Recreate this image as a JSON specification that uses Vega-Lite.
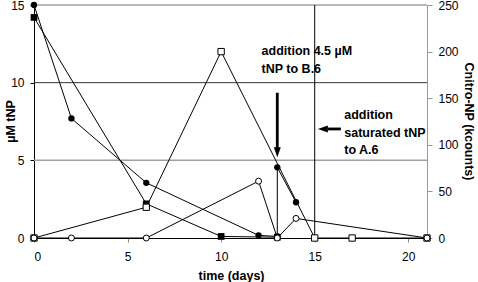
{
  "$schema": "https://vega.github.io/schema/vega-lite/v6.json",
  "width": 393,
  "height": 233,
  "autosize": "none",
  "padding": {"left": 34, "top": 5, "right": 51, "bottom": 44},
  "background": "white",
  "config": {
    "view": {"stroke": null},
    "font": "Liberation Sans",
    "axis": {"labelFont": "Liberation Sans", "titleFont": "Liberation Sans", "labelFontSize": 12, "titleFontSize": 12.5, "titleFontWeight": "bold", "labelColor": "black", "titleColor": "black", "grid": false}
  },
  "datasets": {
    "tnp": [
      {"series": "A.6", "day": 0, "uM": 14.2, "o": 1},
      {"series": "A.6", "day": 6, "uM": 2.2, "o": 2},
      {"series": "A.6", "day": 10, "uM": 0.1, "o": 3},
      {"series": "A.6", "day": 13, "uM": 0.05, "o": 4},
      {"series": "B.6", "day": 0, "uM": 15, "o": 1},
      {"series": "B.6", "day": 2, "uM": 7.7, "o": 2},
      {"series": "B.6", "day": 6, "uM": 3.55, "o": 3},
      {"series": "B.6", "day": 12, "uM": 0.17, "o": 4},
      {"series": "B.6", "day": 13, "uM": 0.1, "o": 5},
      {"series": "B.6", "day": 13, "uM": 4.55, "o": 6},
      {"series": "B.6", "day": 14, "uM": 2.3, "o": 7}
    ],
    "cnp": [
      {"series": "A.6", "day": 0, "kc": 0, "o": 1},
      {"series": "A.6", "day": 6, "kc": 33, "o": 2},
      {"series": "A.6", "day": 10, "kc": 200, "o": 3},
      {"series": "A.6", "day": 15, "kc": 0, "o": 4},
      {"series": "A.6", "day": 17, "kc": 0, "o": 5},
      {"series": "A.6", "day": 21, "kc": 0, "o": 6},
      {"series": "B.6", "day": 0, "kc": 0, "o": 1},
      {"series": "B.6", "day": 2, "kc": 0, "o": 2},
      {"series": "B.6", "day": 6, "kc": 0, "o": 3},
      {"series": "B.6", "day": 12, "kc": 61, "o": 4},
      {"series": "B.6", "day": 13, "kc": 0, "o": 5},
      {"series": "B.6", "day": 14, "kc": 21, "o": 6},
      {"series": "B.6", "day": 21, "kc": 0, "o": 7}
    ],
    "notes": [
      {"day": 12.16, "uM": 11.77, "label": "addition 4.5 µM\ntNP to B.6"},
      {"day": 16.58, "uM": 7.66, "label": "addition\nsaturated tNP\nto A.6"}
    ],
    "shafts": [
      {"day": 13, "uM": 9.35, "day2": 13, "uM2": 5.8},
      {"day": 16.4, "uM": 7.02, "day2": 15.7, "uM2": 7.02}
    ],
    "heads": [
      {"day": 13, "uM": 5.2, "dir": "down"},
      {"day": 15.17, "uM": 7.02, "dir": "left"}
    ]
  },
  "layer": [
    {
      "layer": [
        {
          "data": {"name": "tnp"},
          "mark": {"type": "line", "color": "black", "strokeWidth": 1, "strokeOpacity": 0},
          "encoding": {
            "x": {"field": "day", "type": "quantitative", "scale": {"domain": [0, 21], "nice": false},
              "axis": {"title": "time (days)", "values": [0, 5, 10, 15, 20], "domainColor": "black", "tickColor": "#888", "tickSize": 4, "labelPadding": 9, "titleX": 197, "titleY": 37, "titleBaseline": "middle", "titleAlign": "center"}},
            "y": {"field": "uM", "type": "quantitative", "scale": {"domain": [0, 15], "nice": false},
              "axis": {"title": "µM tNP", "values": [0, 5, 10, 15],
                "domainColor": "black", "tickColor": "black", "tickSize": 4, "labelPadding": 6,
                "titleX": -24, "titleY": 116, "titleAngle": -90, "titleAlign": "center", "titleBaseline": "middle"}},
            "detail": {"field": "series"},
            "order": {"field": "o"}
          }
        },
        {
          "data": {"values": [{}]},
          "mark": {"type": "rule", "color": "#a0a0a0", "strokeWidth": 1.5},
          "encoding": {"y": {"datum": 15, "type": "quantitative"}}
        },
        {
          "data": {"values": [{}]},
          "mark": {"type": "rule", "color": "#a0a0a0", "strokeWidth": 1.5},
          "encoding": {"y": {"datum": 5, "type": "quantitative"}}
        },
        {
          "data": {"values": [{}]},
          "mark": {"type": "rule", "color": "#333333", "strokeWidth": 1},
          "encoding": {"y": {"datum": 10, "type": "quantitative"}}
        },
        {
          "data": {"values": [{}]},
          "mark": {"type": "rule", "color": "black", "strokeWidth": 1},
          "encoding": {"x": {"datum": 15, "type": "quantitative"}}
        },
        {
          "data": {"name": "tnp"},
          "mark": {"type": "line", "color": "black", "strokeWidth": 1},
          "encoding": {
            "x": {"field": "day", "type": "quantitative"},
            "y": {"field": "uM", "type": "quantitative"},
            "detail": {"field": "series"},
            "order": {"field": "o"}
          }
        },
        {
          "data": {"name": "tnp"},
          "transform": [{"filter": "datum.series === 'A.6'"}],
          "mark": {"type": "point", "shape": "square", "filled": true, "color": "black", "size": 45, "opacity": 1},
          "encoding": {
            "x": {"field": "day", "type": "quantitative"},
            "y": {"field": "uM", "type": "quantitative"}
          }
        },
        {
          "data": {"name": "tnp"},
          "transform": [{"filter": "datum.series === 'B.6'"}],
          "mark": {"type": "point", "shape": "circle", "filled": true, "color": "black", "size": 40, "opacity": 1},
          "encoding": {
            "x": {"field": "day", "type": "quantitative"},
            "y": {"field": "uM", "type": "quantitative"}
          }
        },
        {
          "data": {"name": "shafts"},
          "mark": {"type": "rule", "color": "black", "strokeWidth": 2.8},
          "encoding": {
            "x": {"field": "day", "type": "quantitative"},
            "x2": {"field": "day2"},
            "y": {"field": "uM", "type": "quantitative"},
            "y2": {"field": "uM2"}
          }
        },
        {
          "data": {"name": "heads"},
          "mark": {"type": "point", "filled": true, "color": "black", "size": 100, "opacity": 1},
          "encoding": {
            "x": {"field": "day", "type": "quantitative"},
            "y": {"field": "uM", "type": "quantitative"},
            "shape": {"field": "dir", "type": "nominal", "legend": null,
              "scale": {"domain": ["down", "left"], "range": ["M0,0L-0.7,-2L0.7,-2Z", "M0,0L2,-0.7L2,0.7Z"]}}
          }
        },
        {
          "data": {"name": "notes"},
          "mark": {"type": "text", "align": "left", "baseline": "alphabetic", "fontWeight": "bold", "fontSize": 12.5, "lineBreak": "\n", "lineHeight": 17.5, "font": "Liberation Sans", "color": "black"},
          "encoding": {
            "x": {"field": "day", "type": "quantitative"},
            "y": {"field": "uM", "type": "quantitative"},
            "text": {"field": "label"}
          }
        }
      ]
    },
    {
      "data": {"name": "cnp"},
      "layer": [
        {
          "mark": {"type": "line", "color": "black", "strokeWidth": 1},
          "encoding": {
            "x": {"field": "day", "type": "quantitative"},
            "y": {"field": "kc", "type": "quantitative", "scale": {"domain": [0, 250], "nice": false},
              "axis": {"orient": "right", "title": "Cnitro-NP (kcounts)", "values": [0, 50, 100, 150, 200, 250],
                "domainColor": "#999", "tickColor": "#999", "tickSize": 5, "labelPadding": 6,
                "titleX": 41, "titleY": 116, "titleAngle": 90, "titleAlign": "center", "titleBaseline": "middle"}},
            "detail": {"field": "series"},
            "order": {"field": "o"}
          }
        },
        {
          "transform": [{"filter": "datum.series === 'A.6'"}],
          "mark": {"type": "point", "shape": "square", "filled": true, "fill": "white", "stroke": "black", "strokeWidth": 1, "size": 40, "opacity": 1},
          "encoding": {
            "x": {"field": "day", "type": "quantitative"},
            "y": {"field": "kc", "type": "quantitative"}
          }
        },
        {
          "transform": [{"filter": "datum.series === 'B.6'"}],
          "mark": {"type": "point", "shape": "circle", "filled": true, "fill": "white", "stroke": "black", "strokeWidth": 1, "size": 36, "opacity": 1},
          "encoding": {
            "x": {"field": "day", "type": "quantitative"},
            "y": {"field": "kc", "type": "quantitative"}
          }
        }
      ]
    }
  ],
  "resolve": {"scale": {"y": "independent"}}
}
